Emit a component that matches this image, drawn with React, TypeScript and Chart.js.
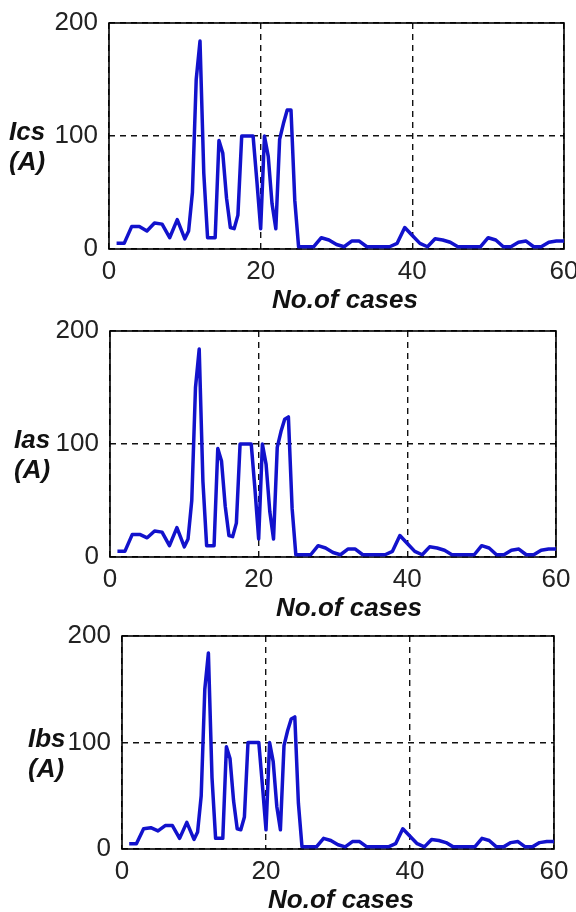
import React, { useEffect, useRef } from 'react';
import { Chart, registerables } from 'chart.js';

Chart.register(...registerables);

// ---- data ----
const caseNumbers = [
  1, 2, 3, 4, 5, 6, 7, 8, 9, 10,
  10.5, 11, 11.5, 12, 12.5, 13, 13.5, 14, 14.5, 15,
  15.5, 16, 16.5, 17, 17.5, 18, 18.5, 19, 19.5, 20,
  20.5, 21, 21.5, 22, 22.5, 23, 23.5, 24, 24.5, 25,
  26, 27, 28, 29, 30, 31, 32, 33, 34, 35,
  36, 37, 38, 39, 40, 41, 42, 43, 44, 45,
  46, 47, 48, 49, 50, 51, 52, 53, 54, 55,
  56, 57, 58, 59, 60,
];

const icsValues = [
  5, 5, 20, 20, 16, 23, 22, 10, 26, 9,
  16, 50, 150, 184, 67, 10, 10, 10, 96, 85,
  45, 19, 18, 30, 100, 100, 100, 100, 60, 18,
  100, 82, 40, 18, 97, 111, 123, 123, 43, 2,
  2, 2, 10, 8, 4, 2, 7, 7, 2, 2,
  2, 2, 5, 19, 12, 5, 2, 9, 8, 6,
  2, 2, 2, 2, 10, 8, 2, 2, 6, 7,
  2, 2, 6, 7, 7,
];

const iasValues = [
  5, 5, 20, 20, 17, 23, 22, 10, 26, 9,
  16, 50, 150, 184, 67, 10, 10, 10, 96, 85,
  45, 19, 18, 30, 100, 100, 100, 100, 60, 16,
  100, 82, 40, 16, 97, 111, 122, 124, 43, 2,
  2, 2, 10, 8, 4, 2, 7, 7, 2, 2,
  2, 2, 5, 19, 12, 5, 2, 9, 8, 6,
  2, 2, 2, 2, 10, 8, 2, 2, 6, 7,
  2, 2, 6, 7, 7,
];

const ibsValues = [
  5, 5, 19, 20, 17, 22, 22, 10, 25, 9,
  16, 50, 150, 184, 67, 10, 10, 10, 96, 85,
  45, 19, 18, 30, 100, 100, 100, 100, 60, 18,
  100, 82, 40, 18, 97, 111, 122, 124, 43, 2,
  2, 2, 10, 8, 4, 2, 7, 7, 2, 2,
  2, 2, 5, 19, 12, 5, 2, 9, 8, 6,
  2, 2, 2, 2, 10, 8, 2, 2, 6, 7,
  2, 2, 6, 7, 7,
];

const xTickStep = 20;
const xMin = 0;
const xMax = 60;
const yTickStep = 100;
const yMin = 0;
const yMax = 200;
const xAxisTitle = 'No.of cases';
const icsLabel = ['Ics', '(A)'];
const iasLabel = ['Ias', '(A)'];
const ibsLabel = ['Ibs', '(A)'];

// ---- layout / style (not data) ----
const panels = [
  { values: icsValues, label: icsLabel, top: 0, height: 320, area: { left: 109, top: 23, right: 564, bottom: 249 }, labelX: 9, titleX: 345 },
  { values: iasValues, label: iasLabel, top: 300, height: 330, area: { left: 110, top: 31, right: 556, bottom: 257 }, labelX: 14, titleX: 349 },
  { values: ibsValues, label: ibsLabel, top: 605, height: 307, area: { left: 122, top: 31, right: 554, bottom: 244 }, labelX: 28, titleX: 341 },
];

const FONT = '"Liberation Sans", Arial, Helvetica, sans-serif';
const LINE_COLOR = '#1212cc';

const framePlugin = {
  id: 'frameLabels',
  beforeDatasetsDraw(chart: any, _args: any, opts: any) {
    const { ctx, chartArea: a } = chart;
    ctx.save();
    ctx.strokeStyle = '#000';
    ctx.lineWidth = 1.6;
    ctx.setLineDash([]);
    ctx.strokeRect(a.left, a.top, a.right - a.left, a.bottom - a.top);
    ctx.restore();
  },
  afterDraw(chart: any, _args: any, opts: any) {
    const { ctx, chartArea: a } = chart;
    ctx.save();
    ctx.fillStyle = '#111';
    ctx.font = `italic bold 26px ${FONT}`;
    ctx.textBaseline = 'alphabetic';
    ctx.textAlign = 'left';
    const g = chart.scales.y.getPixelForValue(100);
    ctx.fillText(opts.lines[0], opts.labelX, g + 4);
    ctx.fillText(opts.lines[1], opts.labelX, g + 34);
    ctx.textAlign = 'center';
    ctx.fillText(opts.title, opts.titleX, a.bottom + 59);
    ctx.restore();
  },
};

function Panel({ p }: { p: (typeof panels)[number] }) {
  const ref = useRef<HTMLCanvasElement | null>(null);
  useEffect(() => {
    if (!ref.current) return;
    const data = caseNumbers.map((c, i) => ({ x: c, y: p.values[i] }));
    const chart = new Chart(ref.current, {
      type: 'line',
      data: {
        datasets: [
          {
            data,
            borderColor: LINE_COLOR,
            borderWidth: 3.5,
            pointRadius: 0,
            tension: 0,
            fill: false,
            borderJoinStyle: 'round',
          },
        ],
      },
      options: {
        animation: false,
        responsive: false,
        events: [],
        layout: { padding: { top: p.area.top, right: 576 - p.area.right, left: 0, bottom: 0 } },
        plugins: {
          legend: { display: false },
          tooltip: { enabled: false },
          frameLabels: { lines: p.label, labelX: p.labelX, titleX: p.titleX, title: xAxisTitle },
        } as any,
        scales: {
          x: {
            type: 'linear',
            min: xMin,
            max: xMax,
            afterFit(scale: any) {
              scale.height = p.height - p.area.bottom;
              scale.paddingLeft = 0;
              scale.paddingRight = 0;
            },
            ticks: {
              stepSize: xTickStep,
              color: '#222',
              font: { family: FONT, size: 26 },
              padding: 7,
              maxRotation: 0,
              autoSkip: false,
            },
            grid: { color: '#111', lineWidth: 1.4, drawTicks: false },
            border: { display: false, dash: [6, 5] },
          },
          y: {
            type: 'linear',
            min: yMin,
            max: yMax,
            afterFit(scale: any) {
              scale.width = p.area.left;
              scale.paddingTop = 0;
              scale.paddingBottom = 0;
            },
            ticks: {
              stepSize: yTickStep,
              color: '#222',
              font: { family: FONT, size: 26 },
              padding: 11,
            },
            grid: { color: '#111', lineWidth: 1.4, drawTicks: false },
            border: { display: false, dash: [6, 5] },
          },
        },
      },
      plugins: [framePlugin as any],
    });
    return () => chart.destroy();
  }, [p]);
  return (
    <div style={{ position: 'absolute', left: 0, top: p.top, width: 576, height: p.height }}>
      <canvas ref={ref} width={576} height={p.height} style={{ width: 576, height: p.height, display: 'block' }} />
    </div>
  );
}

export default function App() {
  return (
    <div style={{ position: 'absolute', left: 0, top: 0, width: 576, height: 912, background: '#fff', overflow: 'hidden' }}>
      {panels.map((p, i) => (
        <Panel key={i} p={p} />
      ))}
    </div>
  );
}
